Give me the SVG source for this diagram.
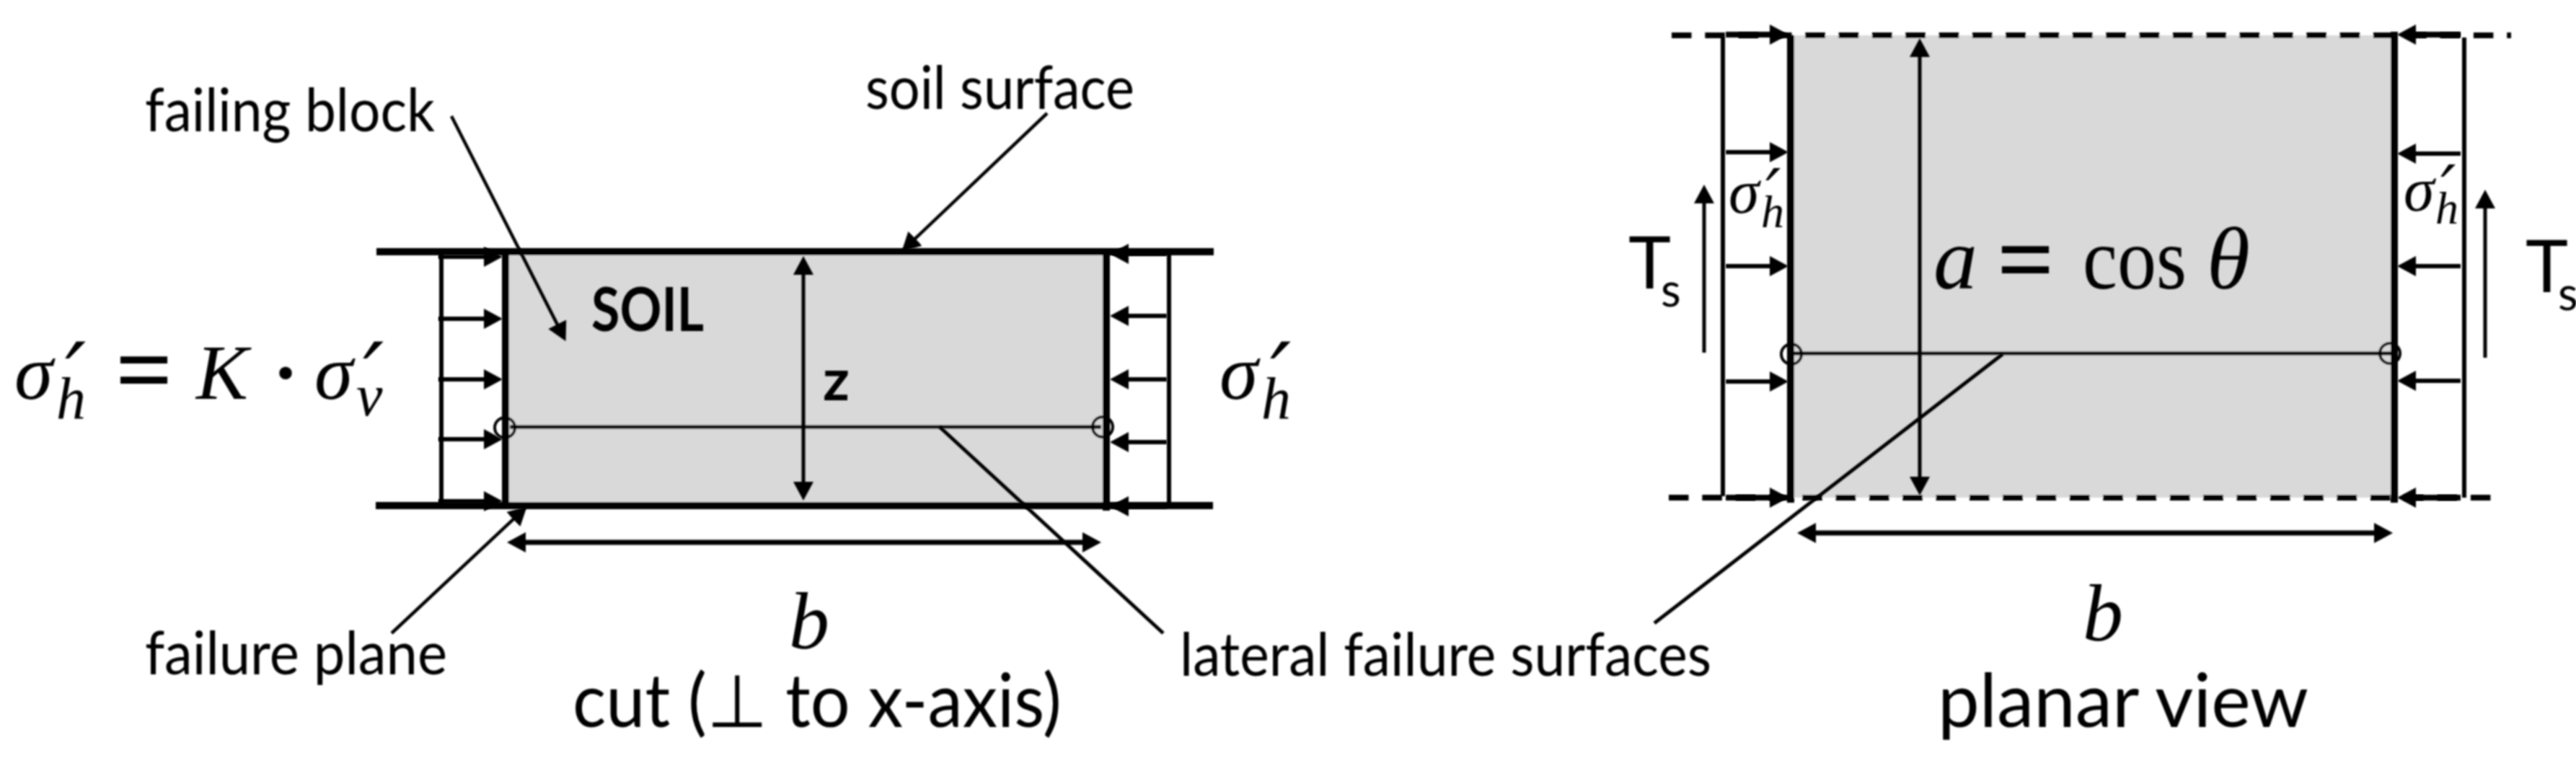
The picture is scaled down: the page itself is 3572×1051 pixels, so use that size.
<svg xmlns="http://www.w3.org/2000/svg" width="3572" height="1051" viewBox="0 0 3572 1051">
<style>
g{filter:url(#soft)}
.lb{font-family:"Lato","Open Sans",sans-serif;font-size:84px;fill:#000}
.lg{font-family:"Lato","Open Sans","DejaVu Sans",sans-serif;font-size:102px;fill:#000}
.sb{font-family:"Lato","Open Sans",sans-serif;font-size:84px;font-weight:700;fill:#000}
.m{font-family:"Liberation Serif",serif;font-style:italic;fill:#000}
.r{font-style:normal}
.eq{font-style:normal;font-weight:700}
.p{font-family:"DejaVu Sans",sans-serif;font-style:italic}
.ln{stroke:#000;fill:none}
.ar{stroke:#000;stroke-width:6;fill:none;marker-end:url(#ah)}
.th{stroke:#000;stroke-width:4.5;fill:none;marker-end:url(#ah)}
.db{stroke:#000;stroke-width:5;fill:none;marker-start:url(#ah);marker-end:url(#ah)}
.db2{stroke:#000;stroke-width:7;fill:none;marker-start:url(#ah);marker-end:url(#ah)}
.wall{stroke:#000;stroke-width:10;fill:none}
.thin{stroke:#000;stroke-width:6;fill:none}
.leader{stroke:#000;stroke-width:5;fill:none}
.c{stroke:#000;stroke-width:4;fill:none}
.dash{stroke:#000;stroke-width:8;fill:none;stroke-dasharray:27.5 18.83}
</style>
<defs>
<filter id="soft" x="0" y="0" width="3572" height="1051" filterUnits="userSpaceOnUse"><feGaussianBlur stdDeviation="0.8"/></filter>
<marker id="ah" markerUnits="userSpaceOnUse" markerWidth="26" markerHeight="28" viewBox="0 0 26 28" refX="13" refY="14" orient="auto-start-reverse"><path d="M0 0L26 14L0 28Z" fill="#000"/></marker>
</defs>
<rect width="3572" height="1051" fill="#fff"/>

<g id="cut-block">
<rect x="706" y="349" width="823" height="352" fill="#d9d9d9"/>
<path class="ln" stroke-width="10" d="M522 349H1683M521 701H1682"/>
<path class="wall" d="M701 349V702M1534 349V708"/>
<path class="thin" d="M612 349V701M1621 349V701"/>
<path class="leader" d="M707 592H1527"/>
<circle class="c" cx="700" cy="593" r="14"/>
<circle class="c" cx="1529" cy="592" r="14"/>
</g>

<g id="planar-block">
<rect x="2488" y="49" width="827" height="641" fill="#d9d9d9"/>
<path class="dash" d="M2318 49H3482M2314 690H3472"/>
<path class="wall" d="M2483 49V697M3320 44V697"/>
<path class="thin" d="M2389 51V688M3417 52V690"/>
<path class="leader" d="M2488 490H3315"/>
<circle class="c" cx="2484" cy="491" r="14"/>
<circle class="c" cx="3314" cy="490" r="14"/>
</g>

<g id="connectors">
<path class="ar" d="M608 356H684"/>
<path class="ar" d="M608 442H684"/>
<path class="ar" d="M608 526H684"/>
<path class="ar" d="M608 609H684"/>
<path class="ar" d="M608 695H684"/>
<path class="ar" d="M1618 352H1552"/>
<path class="ar" d="M1618 438H1552"/>
<path class="ar" d="M1618 526H1552"/>
<path class="ar" d="M1618 613H1552"/>
<path class="ar" d="M1618 702H1552"/>
<path class="db" d="M1114 368V681"/>
<path class="db2" d="M716 752H1514"/>
<path class="th" d="M626 161L778.6 461.3"/>
<path class="th" d="M1452 157L1259.7 339.7"/>
<path class="th" d="M543 878L721.2 711.2"/>
<path class="leader" d="M1303 592L1613 878"/>

<path class="ar" style="stroke-width:8" d="M2393 48H2467"/>
<path class="ar" d="M2393 211H2467"/>
<path class="ar" d="M2393 369H2467"/>
<path class="ar" d="M2393 529H2467"/>
<path class="ar" style="stroke-width:8" d="M2393 690H2467"/>
<path class="ar" style="stroke-width:8" d="M3412 48H3337"/>
<path class="ar" d="M3412 213H3337"/>
<path class="ar" d="M3412 369H3337"/>
<path class="ar" d="M3412 528H3337"/>
<path class="ar" style="stroke-width:8" d="M3412 690H3337"/>
<path class="db" d="M2662 66V674"/>
<path class="db2" d="M2505 739H3305"/>
<path class="ar" style="stroke-width:5" d="M2363 489V269"/>
<path class="ar" style="stroke-width:5" d="M3446 496V276"/>
<path class="leader" d="M2777 491L2294 864"/>
</g>

<g id="labels-cut">
<text class="lb" x="201" y="182" textLength="402" lengthAdjust="spacingAndGlyphs">failing block</text>
<text class="lb" x="1200" y="151" textLength="373" lengthAdjust="spacingAndGlyphs">soil surface</text>
<text class="sb" x="820" y="459" textLength="156" lengthAdjust="spacingAndGlyphs">SOIL</text>
<text class="lb" x="1141" y="555" textLength="37" lengthAdjust="spacingAndGlyphs" style="font-size:80px;font-weight:700">z</text>
<text class="lb" x="201" y="935" textLength="419" lengthAdjust="spacingAndGlyphs">failure plane</text>
<text class="lb" x="1636" y="937" textLength="737" lengthAdjust="spacingAndGlyphs">lateral failure surfaces</text>
<text class="m" x="1094" y="899" font-size="112">b</text>
<text class="lg" x="794" y="1008" textLength="678" lengthAdjust="spacingAndGlyphs">cut (⊥ to x-axis)</text>
</g>

<g id="formula-left">
<text class="m" font-size="108"><tspan x="20" y="553">σ</tspan><tspan class="p" x="90" y="568" font-size="130">′</tspan><tspan x="78" y="580" font-size="82">h</tspan><tspan class="eq" x="160" y="560" font-size="140">=</tspan><tspan x="272" y="553">K</tspan><tspan class="eq" x="378" y="553">·</tspan><tspan x="436" y="553">σ</tspan><tspan class="p" x="503" y="568" font-size="130">′</tspan><tspan x="494" y="576" font-size="82">v</tspan></text>
</g>

<g id="formula-right">
<text class="m" font-size="108"><tspan x="1691" y="553">σ</tspan><tspan class="p" x="1761" y="568" font-size="130">′</tspan><tspan x="1749" y="580" font-size="82">h</tspan></text>
</g>

<g id="labels-planar">
<text class="m" font-size="86"><tspan x="2397" y="295">σ</tspan><tspan class="p" x="2448" y="302" font-size="95">′</tspan><tspan x="2442" y="315" font-size="64">h</tspan></text>
<text class="m" font-size="86"><tspan x="3333" y="292">σ</tspan><tspan class="p" x="3384" y="297" font-size="95">′</tspan><tspan x="3377" y="310" font-size="64">h</tspan></text>
<text class="lb" style="font-size:100px"><tspan x="2258" y="400">T</tspan><tspan x="2303" y="425" style="font-size:64px">s</tspan></text>
<text class="lb" style="font-size:100px"><tspan x="3502" y="405">T</tspan><tspan x="3547" y="430" style="font-size:64px">s</tspan></text>
<text class="m" font-size="122"><tspan x="2681" y="400">a</tspan><tspan class="eq" x="2769" y="407" font-size="140">=</tspan><tspan class="r" x="2888" y="400" textLength="144" lengthAdjust="spacingAndGlyphs">cos</tspan><tspan x="3060" y="400">θ</tspan></text>
<text class="m" x="2888" y="888" font-size="112">b</text>
<text class="lg" x="2687" y="1008" textLength="514" lengthAdjust="spacingAndGlyphs">planar view</text>
</g>
</svg>
